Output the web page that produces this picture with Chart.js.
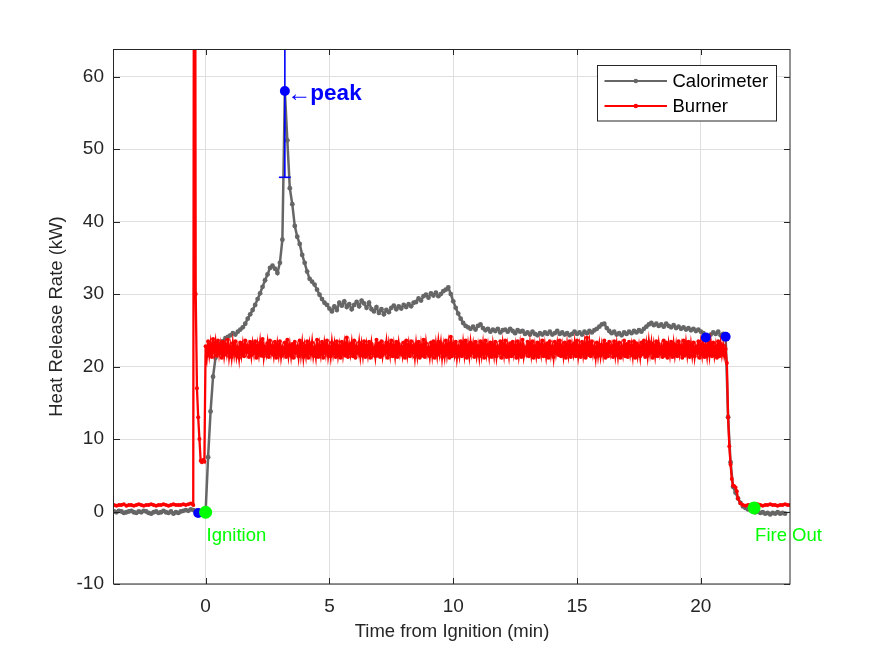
<!DOCTYPE html>
<html>
<head>
<meta charset="utf-8">
<script src="https://cdn.jsdelivr.net/npm/chart.js@4/dist/chart.umd.min.js"></script>
<style>
html,body{margin:0;padding:0;background:#ffffff;}
#wrap{width:875px;height:656px;position:relative;}
</style>
</head>
<body>
<div id="wrap"><canvas id="c" width="875" height="656"></canvas></div>
<script>
// ---------------- DATA ----------------
// Calorimeter sample times (min from ignition)
const calTimeMin = [
  -3.7,-3.6,-3.5,-3.4,-3.3,-3.2,-3.1,
  -3.0,-2.9,-2.8,-2.7,-2.6,-2.5,-2.4,-2.3,-2.2,-2.1,
  -2.0,-1.9,-1.8,-1.7,-1.6,-1.5,-1.4,-1.3,-1.2,-1.1,
  -1.0,-0.9,-0.8,-0.7,-0.6,-0.5,-0.4,-0.3,-0.2,-0.1,
  0.0,0.1,0.2,0.3,0.4,0.5,0.6,0.7,0.8,0.9,
  1.0,1.1,1.2,1.3,1.4,1.5,1.6,1.7,1.8,1.9,
  2.0,2.1,2.2,2.3,2.4,2.5,2.6,2.7,2.8,2.9,
  3.0,3.1,3.2,3.3,3.4,3.5,3.6,3.7,3.8,3.9,
  4.0,4.1,4.2,4.3,4.4,4.5,4.6,4.7,4.8,4.9,
  5.0,5.1,5.2,5.3,5.4,5.5,5.6,5.7,5.8,5.9,
  6.0,6.1,6.2,6.3,6.4,6.5,6.6,6.7,6.8,6.9,
  7.0,7.1,7.2,7.3,7.4,7.5,7.6,7.7,7.8,7.9,
  8.0,8.1,8.2,8.3,8.4,8.5,8.6,8.7,8.8,8.9,
  9.0,9.1,9.2,9.3,9.4,9.5,9.6,9.7,9.8,9.9,
  10.0,10.1,10.2,10.3,10.4,10.5,10.6,10.7,10.8,10.9,
  11.0,11.1,11.2,11.3,11.4,11.5,11.6,11.7,11.8,11.9,
  12.0,12.1,12.2,12.3,12.4,12.5,12.6,12.7,12.8,12.9,
  13.0,13.1,13.2,13.3,13.4,13.5,13.6,13.7,13.8,13.9,
  14.0,14.1,14.2,14.3,14.4,14.5,14.6,14.7,14.8,14.9,
  15.0,15.1,15.2,15.3,15.4,15.5,15.6,15.7,15.8,15.9,
  16.0,16.1,16.2,16.3,16.4,16.5,16.6,16.7,16.8,16.9,
  17.0,17.1,17.2,17.3,17.4,17.5,17.6,17.7,17.8,17.9,
  18.0,18.1,18.2,18.3,18.4,18.5,18.6,18.7,18.8,18.9,
  19.0,19.1,19.2,19.3,19.4,19.5,19.6,19.7,19.8,19.9,
  20.0,20.1,20.2,20.3,20.4,20.5,20.6,20.7,20.8,20.9,
  21.0,21.1,21.2,21.3,21.4,21.5,21.6,21.7,21.8,21.9,
  22.0,22.1,22.2,22.3,22.4,22.5,22.6,22.7,22.8,22.9,
  23.0,23.1,23.2,23.3,23.4,23.5,23.6
];

// Calorimeter heat release rate (kW)
const calorimeterHRR = [
  0.0,-0.1,0.1,0.0,-0.2,-0.1,0.0,
  0.1,-0.1,-0.2,0.0,-0.1,0.1,0.0,-0.2,-0.3,-0.1,
  0.0,-0.2,-0.1,0.1,-0.1,-0.2,0.0,-0.3,-0.1,-0.2,
  0.0,0.1,0.2,0.1,0.3,0.2,0.1,0.0,-0.1,-0.2,
  0.0,7.5,13.8,18.6,21.2,22.4,23.1,23.5,23.9,24.1,
  24.3,24.6,24.4,24.8,25.1,25.4,25.9,26.6,27.2,27.8,
  28.5,29.3,30.1,31.0,31.9,32.7,33.6,33.9,33.5,32.9,
  34.3,37.5,58.0,51.2,44.6,42.4,39.4,37.9,36.9,35.4,
  34.3,33.1,32.1,31.7,31.3,30.6,29.9,29.3,28.8,28.5,
  28.0,27.6,28.3,27.8,28.8,28.4,29.0,28.2,28.6,27.9,
  28.5,28.9,28.3,29.1,28.7,28.1,28.8,27.9,27.6,28.2,
  27.4,27.9,27.2,27.8,27.5,28.1,28.4,27.9,28.3,28.0,
  28.5,28.2,28.6,28.3,28.8,28.9,29.4,29.1,29.7,29.9,
  29.5,30.1,29.8,30.2,29.7,30.0,30.4,30.6,30.9,30.0,
  29.0,28.1,27.3,26.6,26.0,25.6,25.4,25.2,25.5,25.1,
  25.6,25.8,25.3,25.0,25.2,24.8,25.1,24.9,25.2,24.7,
  25.0,25.1,24.8,25.2,24.9,24.6,25.0,24.8,24.9,24.5,
  24.7,24.4,24.8,24.5,24.3,24.6,24.4,24.7,24.5,24.8,
  24.4,24.6,24.9,24.5,24.7,24.4,24.6,24.3,24.5,24.8,
  24.5,24.7,24.4,24.8,24.6,24.9,24.7,25.0,25.2,25.5,
  25.8,25.9,25.3,24.9,24.6,24.8,24.4,24.6,24.3,24.7,
  24.5,24.8,24.6,24.9,24.7,25.0,24.8,25.2,25.5,25.8,
  26.0,25.7,25.9,25.6,25.8,25.5,25.9,25.6,25.4,25.7,
  25.3,25.5,25.2,25.4,25.1,25.3,25.0,25.2,24.9,25.1,
  24.8,24.6,24.2,24.0,24.4,24.7,24.5,24.8,24.3,24.5,
  24.2,13.0,6.8,3.4,2.6,1.8,1.2,0.7,0.5,0.3,
  0.2,0.1,-0.1,0.0,-0.2,-0.1,-0.3,-0.2,-0.4,-0.2,
  -0.3,-0.1,-0.3,-0.2,-0.3,null,null
];

// Burner sample times (min from ignition)
const burnerTimeMin = [
  -3.7,-3.6,-3.5,-3.4,-3.3,-3.2,-3.1,-3.0,-2.9,-2.8,-2.7,-2.6,-2.5,-2.4,-2.3,-2.2,
  -2.1,-2.0,-1.9,-1.8,-1.7,-1.6,-1.5,-1.4,-1.3,-1.2,-1.1,-1.0,-0.9,-0.8,-0.7,-0.6,
  -0.5,-0.45,-0.4,-0.35,-0.3,-0.25,-0.2,-0.15,-0.1,-0.05,
  0.0,0.05,0.1,0.15,0.2,0.25,0.3,0.35,0.4,0.45,
  0.5,0.55,0.6,0.65,0.7,0.75,0.8,0.85,0.9,0.95,
  1.0,1.05,1.1,1.15,1.2,1.25,1.3,1.35,1.4,1.45,
  1.5,1.55,1.6,1.65,1.7,1.75,1.8,1.85,1.9,1.95,
  2.0,2.05,2.1,2.15,2.2,2.25,2.3,2.35,2.4,2.45,
  2.5,2.55,2.6,2.65,2.7,2.75,2.8,2.85,2.9,2.95,
  3.0,3.05,3.1,3.15,3.2,3.25,3.3,3.35,3.4,3.45,
  3.5,3.55,3.6,3.65,3.7,3.75,3.8,3.85,3.9,3.95,
  4.0,4.05,4.1,4.15,4.2,4.25,4.3,4.35,4.4,4.45,
  4.5,4.55,4.6,4.65,4.7,4.75,4.8,4.85,4.9,4.95,
  5.0,5.05,5.1,5.15,5.2,5.25,5.3,5.35,5.4,5.45,
  5.5,5.55,5.6,5.65,5.7,5.75,5.8,5.85,5.9,5.95,
  6.0,6.05,6.1,6.15,6.2,6.25,6.3,6.35,6.4,6.45,
  6.5,6.55,6.6,6.65,6.7,6.75,6.8,6.85,6.9,6.95,
  7.0,7.05,7.1,7.15,7.2,7.25,7.3,7.35,7.4,7.45,
  7.5,7.55,7.6,7.65,7.7,7.75,7.8,7.85,7.9,7.95,
  8.0,8.05,8.1,8.15,8.2,8.25,8.3,8.35,8.4,8.45,
  8.5,8.55,8.6,8.65,8.7,8.75,8.8,8.85,8.9,8.95,
  9.0,9.05,9.1,9.15,9.2,9.25,9.3,9.35,9.4,9.45,
  9.5,9.55,9.6,9.65,9.7,9.75,9.8,9.85,9.9,9.95,
  10.0,10.05,10.1,10.15,10.2,10.25,10.3,10.35,10.4,10.45,
  10.5,10.55,10.6,10.65,10.7,10.75,10.8,10.85,10.9,10.95,
  11.0,11.05,11.1,11.15,11.2,11.25,11.3,11.35,11.4,11.45,
  11.5,11.55,11.6,11.65,11.7,11.75,11.8,11.85,11.9,11.95,
  12.0,12.05,12.1,12.15,12.2,12.25,12.3,12.35,12.4,12.45,
  12.5,12.55,12.6,12.65,12.7,12.75,12.8,12.85,12.9,12.95,
  13.0,13.05,13.1,13.15,13.2,13.25,13.3,13.35,13.4,13.45,
  13.5,13.55,13.6,13.65,13.7,13.75,13.8,13.85,13.9,13.95,
  14.0,14.05,14.1,14.15,14.2,14.25,14.3,14.35,14.4,14.45,
  14.5,14.55,14.6,14.65,14.7,14.75,14.8,14.85,14.9,14.95,
  15.0,15.05,15.1,15.15,15.2,15.25,15.3,15.35,15.4,15.45,
  15.5,15.55,15.6,15.65,15.7,15.75,15.8,15.85,15.9,15.95,
  16.0,16.05,16.1,16.15,16.2,16.25,16.3,16.35,16.4,16.45,
  16.5,16.55,16.6,16.65,16.7,16.75,16.8,16.85,16.9,16.95,
  17.0,17.05,17.1,17.15,17.2,17.25,17.3,17.35,17.4,17.45,
  17.5,17.55,17.6,17.65,17.7,17.75,17.8,17.85,17.9,17.95,
  18.0,18.05,18.1,18.15,18.2,18.25,18.3,18.35,18.4,18.45,
  18.5,18.55,18.6,18.65,18.7,18.75,18.8,18.85,18.9,18.95,
  19.0,19.05,19.1,19.15,19.2,19.25,19.3,19.35,19.4,19.45,
  19.5,19.55,19.6,19.65,19.7,19.75,19.8,19.85,19.9,19.95,
  20.0,20.05,20.1,20.15,20.2,20.25,20.3,20.35,20.4,20.45,
  20.5,20.55,20.6,20.65,20.7,20.75,20.8,20.85,20.9,20.95,
  21.0,21.05,21.1,21.15,21.2,21.25,21.3,21.35,21.4,21.45,
  21.5,21.6,21.7,21.8,21.9,22.0,22.1,22.2,22.3,22.4,22.5,
  22.6,22.7,22.8,22.9,23.0,23.1,23.2,23.3,23.4,23.5,23.6
];

// Burner heat release rate (kW)
const burnerHRR = [
  0.9,0.8,0.9,0.9,1.0,0.8,0.9,0.9,0.8,0.9,1.0,0.9,0.8,0.9,0.9,1.0,
  0.9,0.8,0.9,0.9,1.0,0.9,0.8,0.9,1.0,0.9,0.9,0.9,1.0,0.9,1.0,1.1,
  0.9,150,30,17,13,10,7.0,6.8,7.1,6.9,
  22.8,21.4,23.5,21.7,23.1,21.3,23.8,22.0,23.3,21.5,
  23.6,21.8,22.9,21.2,23.4,21.6,23.0,21.9,23.7,21.4,
  22.7,21.3,23.2,21.8,23.5,21.5,22.6,21.2,23.3,21.7,
  23.0,21.4,23.6,22.0,22.8,21.3,23.4,21.6,23.1,21.9,
  23.5,21.2,22.9,21.7,23.3,21.5,23.8,21.4,22.7,21.8,
  23.2,21.3,23.6,21.9,22.8,21.6,23.4,21.2,23.0,21.7,
  23.5,21.4,22.6,21.8,23.3,21.3,23.7,21.6,22.9,21.5,
  23.1,21.2,23.4,21.9,22.7,21.4,23.6,21.7,23.2,21.3,
  22.8,21.6,23.5,21.2,23.0,21.8,23.3,21.5,22.6,21.4,
  23.7,21.3,22.9,21.7,23.4,21.2,23.1,21.9,23.6,21.5,
  22.7,21.4,23.3,21.8,23.0,21.3,23.5,21.6,22.8,21.2,
  23.4,21.7,23.1,21.5,24.0,21.3,22.9,21.8,23.2,21.4,
  23.6,21.2,22.7,21.9,23.3,21.5,23.0,21.6,23.5,21.3,
  22.9,21.7,23.4,21.2,23.1,21.8,22.6,21.4,23.7,21.5,
  23.2,21.3,23.5,21.6,22.8,21.9,23.3,21.2,23.0,21.7,
  23.6,21.4,22.9,21.5,23.4,21.3,23.1,21.8,22.7,21.6,
  23.3,21.2,23.6,21.7,23.0,21.4,23.5,21.9,22.8,21.3,
  23.1,21.6,23.4,21.2,22.9,21.5,23.7,21.3,23.2,21.8,
  22.6,21.4,23.3,21.7,23.5,21.2,23.0,21.6,23.4,21.9,
  23.2,21.3,22.8,21.5,23.6,21.7,23.1,21.2,24.1,21.4,
  23.0,21.8,23.4,21.3,22.7,21.6,23.5,21.4,23.2,21.7,
  23.6,21.2,22.9,21.5,23.3,21.9,23.0,21.3,23.4,21.6,
  22.8,21.4,23.5,21.7,23.1,21.2,23.6,21.8,22.9,21.5,
  23.3,21.3,23.0,21.6,23.4,21.4,22.7,21.9,23.5,21.2,
  23.1,21.7,23.6,21.3,22.8,21.5,23.2,21.4,23.4,21.8,
  22.9,21.2,23.5,21.6,23.0,21.3,23.7,21.5,22.6,21.9,
  23.4,21.4,23.1,21.7,23.5,21.2,22.8,21.6,23.3,21.3,
  23.0,21.8,23.6,21.4,22.9,21.5,23.2,21.2,23.5,21.7,
  22.7,21.3,23.4,21.9,23.1,21.6,23.6,21.4,22.8,21.5,
  23.3,21.2,23.0,21.7,23.5,21.3,22.9,21.8,23.2,21.4,
  23.6,21.5,22.8,21.3,23.4,21.7,23.1,21.2,24.0,21.6,
  23.2,21.4,23.5,21.8,22.7,21.3,23.3,21.6,23.0,21.5,
  22.9,21.7,23.6,21.2,23.1,21.4,23.4,21.9,22.8,21.3,
  23.5,21.6,23.0,21.5,23.3,21.2,22.7,21.7,23.6,21.4,
  23.1,21.3,23.4,21.8,22.9,21.5,23.5,21.2,23.2,21.6,
  22.8,21.4,23.3,21.7,23.6,21.3,23.0,21.5,23.4,21.9,
  23.2,21.2,22.9,21.6,23.5,21.4,23.1,21.8,22.7,21.3,
  23.6,21.5,23.3,21.2,23.0,21.7,23.4,21.3,23.1,21.6,
  22.9,21.4,23.5,21.8,22.8,21.2,23.6,21.5,23.2,21.7,
  23.4,21.3,23.0,21.6,23.3,21.4,22.7,21.9,23.5,21.2,
  23.1,21.7,23.6,21.3,22.9,21.5,23.4,21.6,23.2,21.4,
  23.3,21.6,22.8,21.2,23.5,21.4,23.1,21.7,22.9,21.5,
  22.4,20.5,13.0,9.0,6.5,4.5,3.6,3.5,3.3,2.8,
  1.8,1.1,0.9,0.8,0.9,0.9,0.8,0.9,1.0,0.9,0.8,
  0.9,0.9,1.0,0.9,0.9,0.8,0.9,0.9,1.0,0.9,0.9
];

const seriesNames = ['Calorimeter', 'Burner'];
const xTickValues = [0, 5, 10, 15, 20];
const yTickValues = [-10, 0, 10, 20, 30, 40, 50, 60];
const xRange = [-3.7, 23.6];
const yRange = [-10, 63.8];

// peak marker with error bar
const peakTime = 3.2, peakHRR = 58.0, peakLower = 46.1, peakUpper = 69.9, peakCapHalf = 0.24;
// blue marker points
const markTimes = [-0.3, 20.2, 21.0];
const markHRR = [-0.2, 24.0, 24.1];
// green event points and labels
const eventTimes = [0, 22.15];
const eventHRR = [-0.1, 0.5];
const eventLabels = ['Ignition', 'Fire Out'];
const eventLabelHRR = -4;

// ---------------- STYLE ----------------
const FONT = "'Liberation Sans', Arial, Helvetica, sans-serif";
const AXIS = 'rgb(38,38,38)';
const GRID = 'rgb(223,223,223)';
const GREY = 'rgb(102,102,102)';
const RED = 'rgb(255,0,0)';
const BLUE = 'rgb(0,0,255)';
const GREEN = 'rgb(0,255,0)';

const pts = (xs, ys) => xs.map((t, i) => ({ x: t, y: ys[i] }));

const matlabPlugin = {
  id: 'matlabPlugin',
  afterDatasetsDraw(chart) {
    const { ctx, scales: { x, y } } = chart;
    ctx.save();
    ctx.font = `18.5px ${FONT}`;
    ctx.fillStyle = GREEN;
    ctx.textAlign = 'left';
    ctx.textBaseline = 'alphabetic';
    eventTimes.forEach((t, i) => {
      ctx.fillText(eventLabels[i], x.getPixelForValue(t) + 1, y.getPixelForValue(eventLabelHRR));
    });
    const px = x.getPixelForValue(peakTime), py = y.getPixelForValue(peakHRR);
    ctx.fillStyle = BLUE;
    ctx.font = `24px ${FONT}`;
    ctx.fillText('\u2190', px + 2.5, py + 10);
    ctx.font = `bold 22.5px ${FONT}`;
    ctx.fillText('peak', px + 25.5, py + 9);
    ctx.restore();
  },
  afterDraw(chart) {
    const { ctx, chartArea: a, scales: { x, y } } = chart;
    ctx.save();
    ctx.strokeStyle = AXIS;
    ctx.lineWidth = 1;
    ctx.strokeRect(a.left - 0.5, a.top + 0.5, a.right - a.left + 0.5, a.bottom - a.top - 0.5);
    ctx.beginPath();
    const TL = 6;
    xTickValues.forEach(v => {
      const p = Math.round(x.getPixelForValue(v)) + 0.5;
      ctx.moveTo(p, a.bottom); ctx.lineTo(p, a.bottom - TL);
      ctx.moveTo(p, a.top); ctx.lineTo(p, a.top + TL);
    });
    yTickValues.forEach(v => {
      const p = Math.round(y.getPixelForValue(v)) + 0.5;
      ctx.moveTo(a.left, p); ctx.lineTo(a.left + TL, p);
      ctx.moveTo(a.right, p); ctx.lineTo(a.right - TL, p);
    });
    ctx.stroke();
    // legend
    const lw = 179, lh = 55.5;
    const lx = Math.round(a.right - 14 - lw) + 0.5, ly = Math.round(a.top + 16) + 0.5;
    ctx.fillStyle = '#ffffff';
    ctx.fillRect(lx, ly, lw, lh);
    ctx.strokeStyle = AXIS;
    ctx.lineWidth = 1;
    ctx.strokeRect(lx, ly, lw, lh);
    const rowY = [ly + 15.5, ly + 40.5];
    const cols = [GREY, RED];
    seriesNames.forEach((name, i) => {
      ctx.strokeStyle = cols[i];
      ctx.lineWidth = 1.8;
      ctx.beginPath();
      ctx.moveTo(lx + 7, rowY[i]); ctx.lineTo(lx + 69.5, rowY[i]);
      ctx.stroke();
      ctx.fillStyle = cols[i];
      ctx.beginPath(); ctx.arc(lx + 38.3, rowY[i], 2.2, 0, Math.PI * 2); ctx.fill();
      ctx.fillStyle = 'rgb(0,0,0)';
      ctx.font = `18.5px ${FONT}`;
      ctx.textAlign = 'left';
      ctx.textBaseline = 'middle';
      ctx.fillText(name, lx + 75, rowY[i] + 0.5);
    });
    ctx.restore();
  }
};

new Chart(document.getElementById('c'), {
  type: 'scatter',
  data: {
    datasets: [
      { label: 'Fire events', data: pts(eventTimes, eventHRR), order: 0,
        pointRadius: 6.5, pointBackgroundColor: GREEN, pointBorderWidth: 0, showLine: false },
      { label: 'Marks', data: pts(markTimes.concat([peakTime]), markHRR.concat([peakHRR])), order: 1,
        pointRadius: 5, pointBackgroundColor: BLUE, pointBorderWidth: 0, showLine: false },
      { label: 'Peak range', data: pts([peakTime, peakTime], [peakLower, peakUpper]), order: 2,
        showLine: true, borderColor: BLUE, borderWidth: 1.6, pointRadius: 0, clip: 0 },
      { label: 'Peak cap', data: pts([peakTime - peakCapHalf, peakTime + peakCapHalf], [peakLower, peakLower]), order: 2,
        showLine: true, borderColor: BLUE, borderWidth: 1.6, pointRadius: 0, clip: 0 },
      { label: seriesNames[1], data: pts(burnerTimeMin, burnerHRR), order: 3,
        showLine: true, borderColor: RED, borderWidth: 2.3, tension: 0, spanGaps: false,
        pointRadius: 2.0, pointBackgroundColor: RED, pointBorderWidth: 0, clip: 0 },
      { label: seriesNames[0], data: pts(calTimeMin, calorimeterHRR), order: 4,
        showLine: true, borderColor: GREY, borderWidth: 2.5, tension: 0, spanGaps: false,
        pointRadius: 2.4, pointBackgroundColor: GREY, pointBorderWidth: 0, clip: 0 }
    ]
  },
  options: {
    responsive: false,
    animation: false,
    devicePixelRatio: 1,
    layout: { padding: { left: 0, top: 49, right: 85, bottom: 0 } },
    plugins: { legend: { display: false }, tooltip: { enabled: false }, title: { display: false } },
    elements: { point: { hoverRadius: 0 } },
    scales: {
      x: {
        type: 'linear', position: 'bottom', min: xRange[0], max: xRange[1],
        afterBuildTicks: s => { s.ticks = xTickValues.map(v => ({ value: v })); },
        afterFit: s => { s.height = 72; },
        grid: { color: GRID, lineWidth: 1, drawTicks: false },
        border: { display: false },
        ticks: { color: AXIS, font: { family: FONT, size: 19 }, padding: 11, maxRotation: 0, autoSkip: false },
        title: { display: true, text: 'Time from Ignition (min)', color: AXIS,
                 font: { family: FONT, size: 18.5 }, padding: { top: 0, bottom: 12.7 } }
      },
      y: {
        type: 'linear', position: 'left', min: yRange[0], max: yRange[1],
        afterBuildTicks: s => { s.ticks = yTickValues.map(v => ({ value: v })); },
        afterFit: s => { s.width = 114; },
        grid: { color: GRID, lineWidth: 1, drawTicks: false },
        border: { display: false },
        ticks: { color: AXIS, font: { family: FONT, size: 19 }, padding: 10, autoSkip: false },
        title: { display: true, text: 'Heat Release Rate (kW)', color: AXIS,
                 font: { family: FONT, size: 18.5 }, padding: { top: 46, bottom: 0 } }
      }
    }
  },
  plugins: [matlabPlugin]
});
</script>
</body>
</html>
